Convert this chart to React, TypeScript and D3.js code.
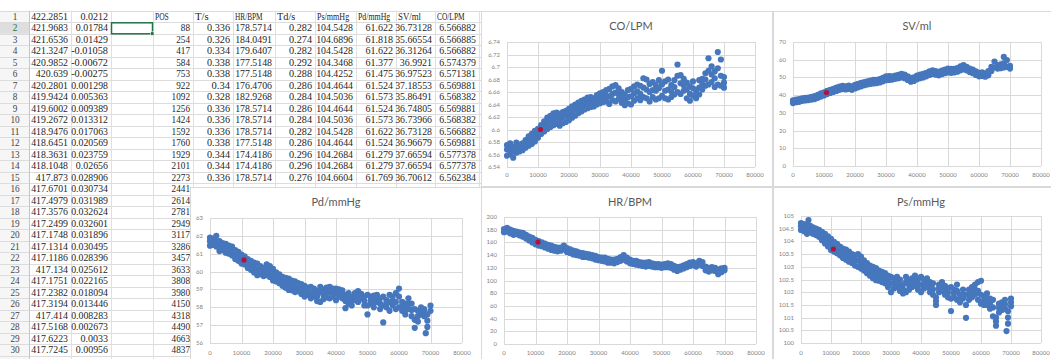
import React from "react";
import * as d3 from "d3";

// ---------- worksheet contents ----------
const rowLabels = ["1","2","3","4","5","6","7","8","9","10","11","12","13","14","15","16","17","18","19","20","21","22","23","24","25","26","27","28","29","30"];

const colA = ["422.2851","421.9683","421.6536","421.3247","420.9852","420.639","420.2801","419.9424","419.6002","419.2672","418.9476","418.6451","418.3631","418.1048","417.873","417.6701","417.4979","417.3576","417.2499","417.1748","417.1314","417.1186","417.134","417.1751","417.2382","417.3194","417.414","417.5168","417.6223","417.7245"];
const colB = ["0.0212","0.01784","0.01429","-0.01058","-0.00672","-0.00275","0.001298","0.005363","0.009389","0.013312","0.017063","0.020569","0.023759","0.02656","0.028906","0.030734","0.031989","0.032624","0.032601","0.031896","0.030495","0.028396","0.025612","0.022165","0.018094","0.013446","0.008283","0.002673","0.0033","0.00956"];
const colPOS = ["POS","88","254","417","584","753","922","1092","1256","1424","1592","1760","1929","2101","2273","2441","2614","2781","2949","3117","3286","3457","3633","3808","3980","4150","4318","4490","4663","4837"];
const colT = ["T/s","0.336","0.326","0.334","0.338","0.338","0.34","0.328","0.336","0.336","0.336","0.338","0.344","0.344","0.336"];
const colHR = ["HR/BPM","178.5714","184.0491","179.6407","177.5148","177.5148","176.4706","182.9268","178.5714","178.5714","178.5714","177.5148","174.4186","174.4186","178.5714"];
const colTd = ["Td/s","0.282","0.274","0.282","0.292","0.288","0.286","0.284","0.286","0.284","0.282","0.286","0.296","0.296","0.276"];
const colPs = ["Ps/mmHg","104.5428","104.6896","104.5428","104.3468","104.4252","104.4644","104.5036","104.4644","104.5036","104.5428","104.4644","104.2684","104.2684","104.6604"];
const colPd = ["Pd/mmHg","61.622","61.818","61.622","61.377","61.475","61.524","61.573","61.524","61.573","61.622","61.524","61.279","61.279","61.769"];
const colSV = ["SV/ml","36.73128","35.66554","36.31264","36.9921","36.97523","37.18553","35.86491","36.74805","36.73966","36.73128","36.96679","37.66594","37.66594","36.70612"];
const colCO = ["CO/LPM","6.566882","6.566885","6.566882","6.574379","6.571381","6.569881","6.568382","6.569881","6.568382","6.566882","6.569881","6.577378","6.577378","6.562384"];

// ---------- chart series: [POS, value, value, ...] ----------
const coRows: number[][] = [
  [0, 6.558, 6.568, 6.575], [1000, 6.561, 6.569, 6.578], [2000, 6.555, 6.565, 6.572], [3000, 6.563, 6.571, 6.579],
  [4000, 6.565, 6.57, 6.576], [5000, 6.567, 6.573, 6.578], [6000, 6.571, 6.578, 6.583], [7000, 6.574, 6.58, 6.589],
  [8000, 6.577, 6.586, 6.593], [9000, 6.581, 6.59, 6.598], [10000, 6.587, 6.595, 6.601], [11000, 6.593, 6.6, 6.607],
  [12000, 6.597, 6.606, 6.613], [13000, 6.601, 6.61, 6.619], [14000, 6.604, 6.614, 6.622], [15000, 6.607, 6.617, 6.626],
  [16000, 6.609, 6.619, 6.627], [17000, 6.606, 6.615, 6.625], [18000, 6.61, 6.62, 6.628], [19000, 6.612, 6.622, 6.63],
  [20000, 6.615, 6.625, 6.633], [21000, 6.619, 6.627, 6.637], [22000, 6.622, 6.632, 6.64], [23000, 6.626, 6.634, 6.643],
  [24000, 6.629, 6.638, 6.646], [25000, 6.632, 6.64, 6.648], [26000, 6.634, 6.643, 6.651], [27000, 6.636, 6.645, 6.652],
  [28000, 6.637, 6.644, 6.65], [29000, 6.64, 6.647, 6.655], [30000, 6.642, 6.65, 6.658], [31000, 6.644, 6.652, 6.66],
  [32000, 6.645, 6.654, 6.663], [33000, 6.641, 6.653, 6.665], [34000, 6.647, 6.657, 6.669], [35000, 6.645, 6.659, 6.671],
  [36000, 6.649, 6.657, 6.666], [37000, 6.643, 6.651, 6.66], [38000, 6.639, 6.648, 6.656], [39000, 6.642, 6.652, 6.663],
  [40000, 6.64, 6.653, 6.665], [41000, 6.646, 6.658, 6.669], [42000, 6.65, 6.661, 6.672], [43000, 6.647, 6.657, 6.67],
  [44000, 6.652, 6.667, 6.682], [45000, 6.65, 6.664, 6.68], [46000, 6.645, 6.66, 6.673], [47000, 6.652, 6.663, 6.676],
  [48000, 6.648, 6.662, 6.671], [49000, 6.65, 6.666, 6.679], [50000, 6.654, 6.672, 6.694], [51000, 6.65, 6.662, 6.677],
  [52000, 6.648, 6.664, 6.68], [53000, 6.652, 6.661, 6.671], [54000, 6.656, 6.668, 6.679], [55000, 6.66, 6.686, 6.704],
  [56000, 6.657, 6.674, 6.687], [57000, 6.662, 6.671, 6.681], [58000, 6.65, 6.664, 6.675], [59000, 6.646, 6.657, 6.669],
  [60000, 6.654, 6.666, 6.677], [61000, 6.65, 6.657, 6.663], [62000, 6.656, 6.667, 6.679], [63000, 6.664, 6.672, 6.681],
  [64000, 6.67, 6.68, 6.69], [65000, 6.672, 6.694, 6.714], [66000, 6.676, 6.688, 6.701], [67000, 6.668, 6.682, 6.693],
  [68000, 6.672, 6.698, 6.724], [69000, 6.67, 6.686, 6.712], [70000, 6.667, 6.675, 6.684],
];

const svRows: number[][] = [
  [0, 35.5, 37], [1000, 36, 37.5], [2000, 36.2, 37.8], [3000, 36.8, 38.2], [4000, 37, 38.5],
  [5000, 37.2, 38.6], [6000, 37.5, 39], [7000, 37.8, 39.5], [8000, 38.5, 40.2], [9000, 39.2, 41],
  [10000, 39.8, 41.6], [11000, 40.6, 42.4], [12000, 41.2, 43], [13000, 41.8, 43.6], [14000, 42.4, 44.2],
  [15000, 43, 44.8], [16000, 43.4, 45.2], [17000, 43.2, 45], [18000, 43.5, 45.4], [19000, 43, 45],
  [20000, 43.8, 45.8], [21000, 44.4, 46.4], [22000, 45, 47], [23000, 45.6, 47.4], [24000, 46, 47.8],
  [25000, 46.4, 48.2], [26000, 46.6, 48.6], [27000, 46.8, 48.6], [28000, 47.2, 49], [29000, 47.8, 49.8],
  [30000, 48.4, 50.6], [31000, 48.6, 50.8], [32000, 48.8, 50.6], [33000, 49.2, 51], [34000, 49.6, 51.4],
  [35000, 50, 52], [36000, 49.6, 51.6], [37000, 48.6, 50.6], [38000, 47.6, 49.8], [39000, 48, 50],
  [40000, 49, 51], [41000, 49.6, 51.6], [42000, 50, 52], [43000, 50.6, 52.6], [44000, 51.4, 53.4],
  [45000, 52, 54], [46000, 51.6, 53.6], [47000, 51.2, 53.2], [48000, 51.8, 53.8], [49000, 52.4, 54.4],
  [50000, 52.8, 55], [51000, 52.6, 54.8], [52000, 52.8, 54.8], [53000, 53.2, 55.2], [54000, 54, 56.2],
  [55000, 54.6, 57], [56000, 54, 56], [57000, 53, 55], [58000, 52.4, 54.4], [59000, 51.4, 53.4],
  [60000, 50.6, 52.6], [61000, 50.8, 52.8], [62000, 50.4, 52.2], [63000, 51.2, 53.6], [64000, 53.6, 56],
  [65000, 55.6, 59], [66000, 55, 57], [67000, 55.2, 57.4], [68000, 55.6, 58, 61.6], [69000, 56, 59.8],
  [70000, 55, 56.6],
];

const pdRows: number[][] = [
  [0, 61.45, 61.7, 61.9], [1000, 61.5, 61.65, 61.85], [2000, 61.4, 61.7, 62.0], [3000, 61.15, 61.45, 61.7],
  [4000, 61.2, 61.4, 61.6], [5000, 61.05, 61.3, 61.55], [6000, 61.0, 61.2, 61.45], [7000, 60.9, 61.15, 61.4],
  [8000, 60.7, 60.95, 61.2], [9000, 60.6, 60.85, 61.1], [10000, 60.45, 60.7, 60.95], [11000, 60.4, 60.6, 60.85],
  [12000, 60.2, 60.45, 60.7], [13000, 60.1, 60.35, 60.6], [14000, 59.95, 60.2, 60.5], [15000, 59.8, 60.1, 60.45],
  [16000, 59.85, 60.05, 60.3], [17000, 59.75, 59.95, 60.2], [18000, 59.8, 60.1, 60.4], [19000, 59.7, 60.0, 60.3],
  [20000, 59.5, 59.8, 60.15], [21000, 59.45, 59.7, 59.95], [22000, 59.35, 59.6, 59.85], [23000, 59.2, 59.45, 59.7],
  [24000, 59.1, 59.4, 59.65], [25000, 58.97, 59.3, 59.6], [26000, 58.95, 59.2, 59.5], [27000, 58.85, 59.15, 59.45],
  [28000, 58.9, 59.1, 59.35], [29000, 58.75, 59.0, 59.3], [30000, 58.6, 58.9, 59.2], [31000, 58.7, 58.9, 59.1],
  [32000, 58.5, 58.8, 59.15], [33000, 58.6, 58.8, 59.05], [34000, 58.35, 58.6, 58.9], [35000, 58.3, 58.85, 59.15],
  [36000, 58.45, 58.7, 59.0], [37000, 58.55, 58.8, 59.1], [38000, 58.5, 58.85, 59.15], [39000, 58.6, 58.8, 59.05],
  [40000, 58.4, 58.8, 59.05], [41000, 58.6, 58.8, 59.0], [42000, 58.5, 58.7, 58.95], [43000, 57.95, 58.35, 58.7],
  [44000, 58.2, 58.5, 58.8], [45000, 58.1, 58.35, 58.6], [46000, 58.4, 58.6, 58.8], [47000, 58.3, 58.6, 58.9],
  [48000, 58.5, 58.75], [49000, 58.1, 58.35, 58.6], [50000, 57.6, 58.1, 58.7], [51000, 58.2, 58.4, 58.6],
  [52000, 58.0, 58.3, 58.65], [53000, 58.3, 58.5, 58.7], [54000, 57.9, 58.2, 58.5], [55000, 57.15, 58.1, 58.6],
  [56000, 58.0, 58.2, 58.4], [57000, 57.8, 58.3, 58.7], [58000, 58.1, 58.35, 58.6], [59000, 57.9, 58.3, 58.8],
  [60000, 58.0, 58.6, 59.05], [61000, 57.8, 58.05, 58.3], [62000, 57.6, 57.9, 58.2], [63000, 57.9, 58.2, 58.5],
  [64000, 57.5, 57.85, 58.2], [65000, 56.85, 57.3, 57.9], [66000, 57.2, 57.5, 57.8], [67000, 57.6, 57.8, 58.0],
  [68000, 57.5, 57.7, 57.9], [68500, 56.55], [69000, 56.9, 57.25, 57.6], [70000, 57.8, 58.1],
];

const hrRows: number[][] = [
  [0, 176, 181], [1000, 177, 183], [2000, 174, 180], [3000, 172, 178], [4000, 173, 177],
  [5000, 171, 176], [6000, 169, 175], [7000, 166, 172], [8000, 163, 169], [9000, 160, 167],
  [10000, 157, 164], [11000, 155, 162], [12000, 154, 160], [13000, 152, 158], [14000, 150, 156],
  [15000, 148, 155], [16000, 147, 153], [17000, 146, 152], [18000, 147, 152], [19000, 149, 155],
  [20000, 145, 151], [21000, 143, 149], [22000, 141, 147], [23000, 140, 146], [24000, 139, 144],
  [25000, 137, 143], [26000, 137, 142], [27000, 136, 141], [28000, 135, 140], [29000, 133, 139],
  [30000, 132, 137], [31000, 131, 136], [32000, 130, 136], [33000, 128, 134], [34000, 128, 133],
  [35000, 127, 133], [36000, 129, 134], [37000, 131, 137], [38000, 133, 140], [39000, 130, 136],
  [40000, 127, 133], [41000, 126, 131], [42000, 125, 131], [43000, 124, 129], [44000, 123, 128],
  [45000, 122, 128], [46000, 123, 129], [47000, 122, 127], [48000, 121, 126], [49000, 121, 126],
  [50000, 120, 125], [51000, 121, 126], [52000, 121, 127], [53000, 120, 126], [54000, 117, 123],
  [55000, 115, 121], [56000, 117, 122], [57000, 119, 124], [58000, 121, 126], [59000, 123, 128],
  [60000, 124, 129], [61000, 122, 127], [62000, 125, 131], [63000, 123, 129], [64000, 116, 122],
  [65000, 114, 120], [66000, 116, 121], [67000, 115, 120], [68000, 110, 117], [69000, 113, 119],
  [70000, 116, 120],
];

const psRows: number[][] = [
  [0, 104.45, 104.6, 104.72], [1000, 104.4, 104.55, 104.68], [2000, 104.3, 104.48, 104.65], [2500, 104.84],
  [3000, 104.35, 104.5, 104.62], [4000, 104.3, 104.42, 104.55], [5000, 104.25, 104.38, 104.5], [6000, 104.18, 104.3, 104.45],
  [7000, 104.05, 104.22, 104.38], [8000, 103.92, 104.1, 104.3], [9000, 103.8, 104.0, 104.2], [10000, 103.66, 103.88, 104.1],
  [11000, 103.6, 103.8, 103.98], [12000, 103.53, 103.7, 103.9], [13000, 103.45, 103.62, 103.8], [14000, 103.35, 103.55, 103.72],
  [15000, 103.28, 103.48, 103.68], [16000, 103.2, 103.4, 103.6], [17000, 103.15, 103.32, 103.5], [18000, 103.05, 103.25, 103.45],
  [19000, 103.0, 103.25, 103.5], [20000, 102.93, 103.15, 103.4], [21000, 102.85, 103.05, 103.25], [22000, 102.75, 102.95, 103.15],
  [23000, 102.65, 102.85, 103.05], [24000, 102.55, 102.78, 103.0], [25000, 102.47, 102.7, 102.95], [26000, 102.45, 102.65, 102.85],
  [27000, 102.4, 102.6, 102.8], [28000, 102.35, 102.55, 102.75], [29000, 102.2, 102.42, 102.65], [30000, 102.0, 102.35, 102.6],
  [31000, 102.15, 102.35, 102.55], [32000, 102.2, 102.4, 102.6], [33000, 102.05, 102.28, 102.5], [34000, 101.95, 102.12, 102.3],
  [35000, 102.0, 102.4, 102.6], [36000, 102.1, 102.28, 102.45], [37000, 102.2, 102.38, 102.55], [38000, 102.25, 102.45, 102.65],
  [39000, 102.1, 102.3, 102.5], [40000, 102.0, 102.3, 102.6], [41000, 102.15, 102.32, 102.5], [42000, 102.2, 102.38, 102.55],
  [43000, 102.0, 102.2, 102.4], [44000, 101.9, 102.12, 102.35], [45000, 101.5, 101.65, 101.8], [46000, 102.0, 102.15, 102.3],
  [47000, 102.05, 102.22, 102.4], [48000, 101.9, 102.08, 102.25], [49000, 101.8, 101.98, 102.15], [50000, 101.26, 101.75, 102.2],
  [51000, 101.8, 101.95, 102.1], [52000, 101.7, 102.05, 102.3], [53000, 101.6, 101.75, 101.9], [54000, 101.75, 101.92, 102.1],
  [55000, 100.99, 101.5, 101.9], [56000, 101.7, 101.9, 102.1], [57000, 101.8, 102.0, 102.2], [58000, 101.9, 102.1, 102.3],
  [59000, 101.7, 102.05, 102.4], [60000, 101.55, 101.9, 102.45], [61000, 101.5, 101.68, 101.85], [62000, 101.5, 101.72, 101.95],
  [63000, 101.35, 101.55, 101.75], [64000, 101.05, 101.4, 101.7], [65000, 100.68, 100.85, 101.0], [66000, 101.2, 101.38, 101.55],
  [67000, 101.3, 101.45, 101.6], [68000, 101.35, 101.52, 101.7], [68500, 100.47], [69000, 100.76, 101.0, 101.25],
  [70000, 101.45, 101.6, 101.75],
];

// highlighted sample (POS 10800) in each chart
const markPos = 10800;
const markCO = 6.6;
const markSV = 41.5;
const markPd = 60.65;
const markHR = 160.5;
const markPs = 103.7;

// ---------- axis ticks ----------
const posTicks = [0, 10000, 20000, 30000, 40000, 50000, 60000, 70000, 80000];
const coTicks = [6.54, 6.56, 6.58, 6.6, 6.62, 6.64, 6.66, 6.68, 6.7, 6.72, 6.74];
const svTicks = [0, 10, 20, 30, 40, 50, 60, 70];
const pdTicks = [56, 57, 58, 59, 60, 61, 62, 63];
const hrTicks = [0, 20, 40, 60, 80, 100, 120, 140, 160, 180, 200];
const psTicks = [100, 100.5, 101, 101.5, 102, 102.5, 103, 103.5, 104, 104.5, 105];

// ---------- worksheet layout ----------
const ROW_TOP = 10.8;
const ROW_H = 11.5;
const CHAR_W = 4.6; // half-width glyph advance of the sheet font
const sheetCols = [
  { x0: 29, x1: 71, cells: colA },
  { x0: 71, x1: 111, cells: colB },
  { x0: 111, x1: 153, cells: [] as string[] },
  { x0: 153, x1: 193, cells: colPOS },
  { x0: 193, x1: 233, cells: colT },
  { x0: 233, x1: 275, cells: colHR },
  { x0: 275, x1: 315, cells: colTd },
  { x0: 315, x1: 356, cells: colPs },
  { x0: 356, x1: 396, cells: colPd },
  { x0: 396, x1: 435, cells: colSV },
  { x0: 435, x1: 479, cells: colCO },
];

const SHEET_FONT = "'Liberation Serif', 'DejaVu Serif', serif";
const CHART_FONT = "Lato, 'Open Sans', sans-serif";
const GRID = "#d9d9d9";
const DOT = "#4677bd";
const MARK = "#b3123c";

function SheetText(props: { x: number; y: number; anchor: string; fill: string; children: string }) {
  const { x, y, anchor, fill, children } = props;
  return (
    <text x={x} y={y} textAnchor={anchor} fontFamily={SHEET_FONT} fontSize={10} fill={fill}
      textLength={children.length * CHAR_W} lengthAdjust="spacingAndGlyphs">{children}</text>
  );
}

function Sheet() {
  const rowY = (i: number) => ROW_TOP + i * ROW_H;
  const nRows = 31;
  return (
    <g>
      <rect x={0} y={ROW_TOP} width={29} height={359 - ROW_TOP} fill="#f6f6f6" />
      <rect x={0} y={rowY(1)} width={29} height={ROW_H} fill="#dedede" />
      {Array.from({ length: nRows }, (_, i) => (
        <line key={"h" + i} x1={0} x2={481} y1={Math.round(rowY(i)) + 0.5} y2={Math.round(rowY(i)) + 0.5} stroke="#dcdcdc" strokeWidth={1} />
      ))}
      <line x1={29.5} x2={29.5} y1={ROW_TOP} y2={359} stroke="#c6c6c6" />
      {sheetCols.map((c, i) => (
        <line key={"v" + i} x1={c.x1 + 0.5} x2={c.x1 + 0.5} y1={ROW_TOP} y2={359} stroke="#e0e0e0" />
      ))}
      {rowLabels.map((r, i) => (
        <SheetText key={"r" + i} x={15} y={rowY(i) + 8.8} anchor="middle" fill={i === 1 ? "#217346" : "#444"}>{r}</SheetText>
      ))}
      {sheetCols.map((c, ci) =>
        c.cells.map((v, ri) => {
          const isText = isNaN(Number(v));
          return (
            <SheetText key={ci + "-" + ri} x={isText ? c.x0 + 2 : c.x1 - 3} y={rowY(ri) + 8.8}
              anchor={isText ? "start" : "end"} fill="#262626">{v}</SheetText>
          );
        })
      )}
      {/* active cell C2 */}
      <rect x={111.5} y={rowY(1) + 0.5} width={41} height={ROW_H - 0.5} fill="none" stroke="#217346" strokeWidth={1.5} />
      <rect x={150.5} y={rowY(2) - 2} width={3.5} height={3.5} fill="#217346" stroke="#fff" strokeWidth={0.6} />
    </g>
  );
}

type Box = { x: number; y: number; w: number; h: number };
type Plot = { l: number; r: number; t: number; b: number };

function Scatter(props: {
  box: Box; plot: Plot; title: string; titleY: number; xLabelY: number;
  yTicks: number[]; rows: number[][]; markValue: number;
}) {
  const { box, plot, title, titleY, xLabelY, yTicks, rows, markValue } = props;
  const x = d3.scaleLinear().domain([posTicks[0], posTicks[posTicks.length - 1]]).range([plot.l, plot.r]);
  const y = d3.scaleLinear().domain([yTicks[0], yTicks[yTicks.length - 1]]).range([plot.b, plot.t]);
  const pts = rows.flatMap(([p, ...vals]) => vals.map((v) => [p, v] as [number, number]));
  const fmt = (v: number) => String(+v.toFixed(2));
  const crisp = (v: number) => Math.round(v) + 0.5;
  return (
    <g>
      <rect x={box.x + 0.5} y={box.y + 0.5} width={box.w} height={box.h} fill="#fff" stroke={GRID} />
      <text x={(plot.l + plot.r) / 2} y={titleY} textAnchor="middle" fontFamily={CHART_FONT} fontSize={11} fill="#595959">{title}</text>
      {yTicks.map((t) => (
        <g key={"y" + t}>
          <line x1={plot.l} x2={plot.r} y1={crisp(y(t))} y2={crisp(y(t))} stroke={GRID} strokeWidth={1} />
          <text x={plot.l - 7} y={y(t) + 2} textAnchor="end" fontFamily={CHART_FONT} fontSize={6} fill="#7f7f7f">{fmt(t)}</text>
        </g>
      ))}
      {posTicks.map((t) => (
        <g key={"x" + t}>
          <line x1={crisp(x(t))} x2={crisp(x(t))} y1={plot.t} y2={plot.b} stroke={GRID} strokeWidth={1} />
          <text x={x(t)} y={xLabelY} textAnchor="middle" fontFamily={CHART_FONT} fontSize={6} fill="#7f7f7f">{String(t)}</text>
        </g>
      ))}
      {pts.map(([p, v], i) => (
        <circle key={i} cx={x(p)} cy={y(v)} r={3.1} fill={DOT} />
      ))}
      <circle cx={x(markPos)} cy={y(markValue)} r={2.6} fill={MARK} />
    </g>
  );
}

export default function App() {
  return (
    <svg width={1051} height={359} style={{ position: "absolute", left: 0, top: 0, background: "#fff" }}>
      <rect width={1051} height={359} fill="#fff" />
      <Sheet />
      <Scatter box={{ x: 481, y: 11, w: 291, h: 175 }} plot={{ l: 507, r: 755, t: 42, b: 167 }}
        title="CO/LPM" titleY={30} xLabelY={177} yTicks={coTicks} rows={coRows} markValue={markCO} />
      <Scatter box={{ x: 773, y: 11, w: 280, h: 175 }} plot={{ l: 793, r: 1041, t: 42, b: 166 }}
        title="SV/ml" titleY={30} xLabelY={177} yTicks={svTicks} rows={svRows} markValue={markSV} />
      <Scatter box={{ x: 190, y: 187, w: 291, h: 175 }} plot={{ l: 210, r: 462, t: 218, b: 343 }}
        title="Pd/mmHg" titleY={206} xLabelY={355} yTicks={pdTicks} rows={pdRows} markValue={markPd} />
      <Scatter box={{ x: 481, y: 187, w: 291, h: 175 }} plot={{ l: 504, r: 756, t: 217, b: 344 }}
        title="HR/BPM" titleY={206} xLabelY={355} yTicks={hrTicks} rows={hrRows} markValue={markHR} />
      <Scatter box={{ x: 773, y: 187, w: 280, h: 175 }} plot={{ l: 801, r: 1041, t: 216, b: 343 }}
        title="Ps/mmHg" titleY={206} xLabelY={355} yTicks={psTicks} rows={psRows} markValue={markPs} />
    </svg>
  );
}
